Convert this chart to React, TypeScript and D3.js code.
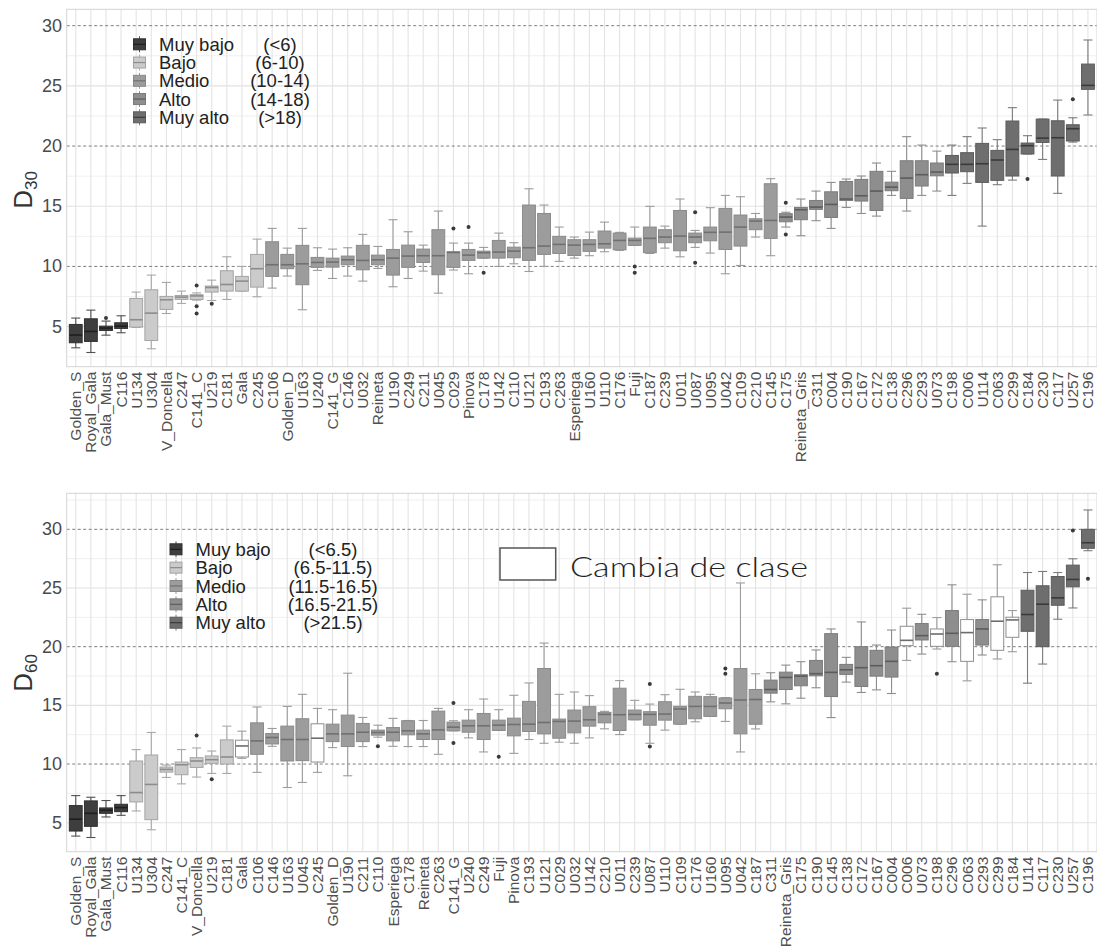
import React from "react";
import * as d3 from "d3";

// ---------- D30 panel data ----------
const cats30 = ["Golden_S","Royal_Gala","Gala_Must","C116","U134","U304","V_Doncella","C247","C141_C","U219","C181","Gala","C245","C106","Golden_D","U163","U240","C141_G","C146","U032","Reineta","U190","C249","C211","U045","C029","Pinova","C178","U142","C110","U121","C193","C263","Esperiega","U160","U110","C176","Fuji","C187","C239","U011","U087","U095","U042","C109","C210","C145","C175","Reineta_Gris","C311","C004","C190","C167","C172","C138","C296","C293","U073","C198","C006","U114","C063","C299","C184","C230","C117","U257","C196"];
const lo30 = [3.24,2.85,4.29,4.49,4.93,3.16,6.09,6.93,7.2,7.17,7.26,7.95,7.48,8.2,9.2,6.4,9.67,9.0,9.2,8.78,9.83,8.31,9.0,9.61,7.78,9.7,9.39,10.69,10.0,10.22,9.58,10.0,10.42,10.69,10.89,11.22,11.33,11.75,11.08,11.52,10.8,11.58,11.11,9.39,10.08,12.44,10.89,13.27,12.55,13.8,13.16,14.9,14.4,14.18,15.9,14.6,15.9,16.26,15.9,16.9,13.35,16.79,17.17,19.34,18.89,16.07,20.33,22.58];
const q1_30 = [3.66,3.77,4.68,4.85,4.96,3.85,6.43,7.26,7.25,7.87,7.95,7.95,8.28,9.17,9.81,8.48,9.92,9.94,10.14,9.72,10.14,9.28,9.92,10.33,9.31,9.92,10.5,10.69,10.69,10.72,10.5,11.0,11.08,10.91,11.25,11.52,11.38,11.75,11.14,11.97,11.3,11.97,12.13,11.41,11.69,13.05,12.33,13.71,13.88,14.74,14.07,15.48,15.43,14.65,16.29,15.65,16.68,17.53,17.76,17.87,16.98,17.15,17.51,19.34,20.3,17.51,20.42,24.71];
const med30 = [4.3,4.6,4.88,5.04,5.57,6.12,7.23,7.45,7.55,8.25,8.5,8.78,9.81,10.14,10.14,10.22,10.33,10.36,10.55,10.5,10.55,10.69,10.86,10.89,10.89,11.16,10.94,11.14,11.19,11.27,11.55,11.69,11.83,11.77,11.83,11.88,12.16,12.16,12.33,12.44,12.52,12.44,12.83,12.85,13.27,13.77,13.82,14.1,14.71,14.93,15.15,15.6,15.87,16.26,16.59,17.34,17.62,17.84,18.48,18.48,18.53,18.84,19.72,20.03,20.66,20.69,21.44,25.04];
const q3_30 = [5.18,5.65,5.04,5.32,7.34,8.06,7.51,7.59,7.65,8.37,9.64,9.17,11.0,12.05,11.0,11.75,10.75,10.69,10.86,11.75,10.94,11.41,11.77,11.44,13.05,11.22,11.41,11.27,12.16,11.6,15.1,14.4,12.5,12.22,12.22,12.94,12.77,12.35,13.27,13.05,14.65,12.77,13.27,14.82,14.27,13.96,16.87,14.38,14.9,15.48,16.2,17.06,17.23,17.9,17.0,18.78,18.78,18.59,19.22,19.45,20.22,19.64,22.08,20.25,22.24,22.1,21.77,26.81];
const hi30 = [5.71,6.37,5.46,5.9,7.87,9.28,8.67,7.95,7.8,8.86,10.8,10.0,12.27,13.16,11.52,13.16,11.55,11.44,11.55,12.66,11.66,13.88,12.88,11.77,14.6,11.94,11.94,11.58,12.77,11.97,16.45,15.1,13.27,12.44,12.85,13.68,12.83,13.27,14.99,13.35,15.6,12.99,14.88,15.9,15.79,14.4,17.29,14.5,15.6,16.26,16.98,17.26,17.51,18.59,17.9,20.78,20.08,19.58,20.08,20.78,21.5,20.53,23.19,20.86,22.24,23.82,22.35,28.81];
const out30: number[][] = [[],[],[5.71],[],[],[],[],[],[8.42,6.7,6.09],[6.9],[],[],[],[],[],[],[],[],[],[],[],[],[],[],[],[13.16],[13.27],[9.47],[],[],[],[],[],[],[],[],[],[10.0,9.47],[],[],[],[14.51,10.3],[],[],[],[],[],[15.29,12.66],[],[],[],[],[],[],[],[],[],[],[],[],[],[],[],[17.26],[],[],[23.88],[]];
const cls30 = ["mb","mb","mb","mb","b","b","b","b","b","b","b","b","b","m","m","m","m","m","m","m","m","m","m","m","m","m","m","m","m","m","m","m","m","m","m","m","m","m","m","m","m","m","m","m","m","m","m","a","a","a","a","a","a","a","a","a","a","a","ma","ma","ma","ma","ma","ma","ma","ma","ma","ma"];

// ---------- D60 panel data ----------
const cats60 = ["Golden_S","Royal_Gala","Gala_Must","C116","U134","U304","C247","C141_C","V_Doncella","U219","C181","Gala","C106","C146","U163","U045","C245","Golden_D","U190","C211","C110","Esperiega","C178","Reineta","C263","C141_G","U240","C249","Fuji","Pinova","C193","U121","C029","U032","U142","C210","U011","C239","U087","U110","C109","C176","U160","U095","U042","C187","C311","Reineta_Gris","C175","C190","C145","C138","C172","C167","C004","C006","U073","C198","C296","C063","C293","C299","C184","U114","C117","C230","U257","C196"];
const lo60 = [3.86,3.74,5.49,5.63,6.0,4.4,8.86,8.31,8.89,9.2,9.2,10.49,9.29,11.51,8.0,8.43,9.29,11.4,9.0,11.49,12.29,11.51,11.49,11.49,10.83,12.83,12.23,11.03,12.86,10.91,12.09,11.77,11.86,11.77,12.23,13.0,12.51,13.77,11.77,12.89,13.4,13.6,14.06,13.63,11.03,12.99,15.3,15.13,15.61,16.5,13.96,16.98,16.1,16.32,16.01,18.83,19.37,19.8,18.72,17.09,19.29,18.95,19.57,16.89,18.52,22.34,23.3,28.18];
const q1_60 = [4.29,4.69,5.8,5.94,6.77,5.26,9.31,9.09,9.71,10.06,10.0,10.6,10.83,11.71,10.26,10.29,10.17,11.91,11.49,11.91,12.46,11.97,12.49,12.09,12.09,12.83,12.71,12.09,12.86,12.4,12.77,12.57,12.2,12.66,13.23,13.51,12.86,13.77,13.31,13.74,13.4,13.86,14.06,14.71,12.57,13.39,16.04,16.35,16.67,17.52,15.75,17.64,16.61,17.49,17.41,20.09,20.57,20.03,20.03,18.75,20.14,19.69,20.8,21.31,20.0,23.53,25.1,28.38];
const med60 = [5.3,5.8,6.06,6.29,7.57,8.26,9.54,9.94,10.26,10.37,10.6,11.54,11.97,12.26,12.09,12.09,12.2,12.57,12.57,12.71,12.69,12.71,12.83,12.57,12.91,13.14,13.26,13.26,13.31,13.37,13.4,13.54,13.63,13.66,13.77,14.23,14.2,14.23,14.23,14.26,14.69,14.91,14.91,15.2,15.46,15.5,16.35,17.38,17.49,17.7,17.81,18.03,18.21,18.38,18.75,20.54,20.94,21.08,21.14,21.2,21.51,22.17,22.28,22.74,23.62,24.16,25.73,28.86];
const q3_60 = [6.46,6.86,6.26,6.57,10.26,10.77,9.74,10.17,10.54,10.69,12.06,12.03,13.51,12.6,13.23,13.86,13.43,13.4,14.17,13.46,12.89,13.11,13.69,12.89,14.51,13.57,13.74,14.31,13.74,13.91,15.34,18.14,13.83,14.6,14.89,14.4,16.46,14.6,14.46,15.31,14.91,15.77,15.74,15.63,18.14,16.35,17.15,17.83,17.61,18.83,21.11,18.49,20.0,19.69,19.97,21.74,21.97,21.51,23.08,22.31,22.31,24.25,22.51,24.81,25.19,25.98,26.95,30.0];
const hi60 = [7.31,7.17,6.89,7.31,11.23,12.69,9.91,11.23,11.37,11.11,13.23,12.8,14.86,13.03,14.91,15.94,14.74,14.63,17.74,13.97,13.31,13.89,13.71,13.71,14.74,13.69,14.63,15.54,14.63,15.86,16.91,20.31,15.94,16.14,15.83,14.49,17.11,15.43,15.11,15.91,16.37,16.14,15.94,15.66,25.43,17.69,17.78,18.43,18.72,19.72,21.51,19.09,22.11,20.14,21.42,23.28,22.76,22.48,25.27,24.47,23.99,26.98,23.08,26.32,26.41,26.32,27.49,31.65];
const out60: number[][] = [[],[],[],[],[],[],[],[],[12.43],[8.71],[],[],[],[],[],[],[],[],[],[],[11.51],[],[],[],[],[15.2,11.8],[],[],[10.63],[],[],[],[],[],[],[],[],[],[16.83,11.49],[],[],[],[],[18.14,17.69],[],[],[],[],[],[],[],[],[],[],[],[],[],[17.69],[],[],[],[],[],[],[],[],[29.91],[25.78]];
const cls60 = ["mb","mb","mb","mb","b","b","b","b","b","b","b","w","m","m","m","m","w","m","m","m","m","m","m","m","m","m","m","m","m","m","m","m","m","m","m","m","m","m","m","m","m","m","m","m","m","m","a","a","a","a","a","a","a","a","a","w","a","w","a","w","a","w","w","ma","ma","ma","ma","ma"];

// ---------- legend texts ----------
const legendLabels = ["Muy bajo", "Bajo", "Medio", "Alto", "Muy alto"];
const legendClasses = ["mb", "b", "m", "a", "ma"];
const ranges30 = ["(<6)", "(6-10)", "(10-14)", "(14-18)", "(>18)"];
const ranges60 = ["(<6.5)", "(6.5-11.5)", "(11.5-16.5)", "(16.5-21.5)", "(>21.5)"];
const yTicks = [5, 10, 15, 20, 25, 30];
const changeLabel = "Cambia de clase";

const STYLE: Record<string, { fill: string; stroke: string; median: string; whisker: string }> = {
  mb: { fill: "#3e3e3e", stroke: "#303030", median: "#1e1e1e", whisker: "#505050" },
  b: { fill: "#cbcbcb", stroke: "#a4a4a4", median: "#8c8c8c", whisker: "#a8a8a8" },
  m: { fill: "#9c9c9c", stroke: "#8a8a8a", median: "#707070", whisker: "#9c9c9c" },
  a: { fill: "#8e8e8e", stroke: "#7b7b7b", median: "#5c5c5c", whisker: "#8e8e8e" },
  ma: { fill: "#6e6e6e", stroke: "#5c5c5c", median: "#3a3a3a", whisker: "#7c7c7c" },
  w: { fill: "#ffffff", stroke: "#8e8e8e", median: "#6c6c6c", whisker: "#9c9c9c" },
};

const LEFT = 66.7;
const RIGHT = 1097;
const FONT = "'Liberation Sans', Arial, sans-serif";

type PanelProps = {
  cats: string[]; lo: number[]; q1: number[]; med: number[]; q3: number[]; hi: number[];
  outs: number[][]; cls: string[];
  top: number; bottom: number; yMin: number; yMax: number;
  sub: string; titleY: number; ranges: string[];
  legX: number; legRangeX: number; legY0: number; legStep: number;
};

function Panel(p: PanelProps) {
  const x = d3.scalePoint<string>().domain(p.cats).range([LEFT, RIGHT]).padding(0.6);
  const y = d3.scaleLinear().domain([p.yMin, p.yMax]).range([p.bottom, p.top]);
  const step = x.step();
  const bw = step * 0.85;
  const cw = step * 0.6;
  const minor = d3.range(2.5, p.yMax, 5).filter((v) => v > p.yMin);
  const majorSolid = [5, 15, 25];
  const dashed = [10, 20, 30];
  return (
    <g>
      <rect x={LEFT} y={p.top} width={RIGHT - LEFT} height={p.bottom - p.top} fill="#ffffff" />
      {minor.map((v) => (
        <line key={"mi" + v} x1={LEFT} x2={RIGHT} y1={y(v)} y2={y(v)} stroke="#ebebeb" strokeWidth={0.8} />
      ))}
      {majorSolid.map((v) => (
        <line key={"ma" + v} x1={LEFT} x2={RIGHT} y1={y(v)} y2={y(v)} stroke="#e2e2e2" strokeWidth={1.1} />
      ))}
      {p.cats.map((c) => (
        <line key={"v" + c} x1={x(c)} x2={x(c)} y1={p.top} y2={p.bottom} stroke="#e4e4e4" strokeWidth={1.1} />
      ))}
      {dashed.map((v) => (
        <line key={"d" + v} x1={LEFT} x2={RIGHT} y1={y(v)} y2={y(v)} stroke="#6f6f6f" strokeWidth={0.9} strokeDasharray="3,2.5" />
      ))}
      <rect x={LEFT} y={p.top} width={RIGHT - LEFT} height={p.bottom - p.top} fill="none" stroke="#d4d4d4" strokeWidth={1} />
      {p.cats.map((c, i) => {
        const cx = x(c) as number;
        const s = STYLE[p.cls[i]];
        return (
          <g key={"b" + c}>
            <line x1={cx} x2={cx} y1={y(p.hi[i])} y2={y(p.q3[i])} stroke={s.whisker} strokeWidth={1.1} />
            <line x1={cx} x2={cx} y1={y(p.q1[i])} y2={y(p.lo[i])} stroke={s.whisker} strokeWidth={1.1} />
            <line x1={cx - cw / 2} x2={cx + cw / 2} y1={y(p.hi[i])} y2={y(p.hi[i])} stroke={s.whisker} strokeWidth={1.1} />
            <line x1={cx - cw / 2} x2={cx + cw / 2} y1={y(p.lo[i])} y2={y(p.lo[i])} stroke={s.whisker} strokeWidth={1.1} />
            <rect x={cx - bw / 2} y={y(p.q3[i])} width={bw} height={Math.max(1, y(p.q1[i]) - y(p.q3[i]))} fill={s.fill} stroke={s.stroke} strokeWidth={1} />
            <line x1={cx - bw / 2} x2={cx + bw / 2} y1={y(p.med[i])} y2={y(p.med[i])} stroke={s.median} strokeWidth={1.6} />
            {p.outs[i].map((o, k) => (
              <circle key={k} cx={cx} cy={y(o)} r={2} fill="#3a3a3a" />
            ))}
          </g>
        );
      })}
      {yTicks.map((t) => (
        <text key={"t" + t} x={62} y={y(t)} textAnchor="end" dominantBaseline="central" fontSize={18} fill="#4a4a4a" fontFamily={FONT}>
          {t}
        </text>
      ))}
      {p.cats.map((c) => (
        <text key={"l" + c} transform={`translate(${x(c)},${p.bottom + 5}) rotate(-90)`} textAnchor="end" dominantBaseline="central" fontSize={15.5} fill="#505050" fontFamily={FONT}>
          {c}
        </text>
      ))}
      <text transform={`translate(32,${p.titleY}) rotate(-90)`} textAnchor="middle" fill="#333333" fontFamily={FONT}>
        <tspan fontSize={26}>D</tspan>
        <tspan fontSize={17} dy={5}>{p.sub}</tspan>
      </text>
      {legendLabels.map((lab, k) => {
        const cy = p.legY0 + k * p.legStep;
        const s = STYLE[legendClasses[k]];
        return (
          <g key={"lg" + k}>
            <line x1={p.legX} x2={p.legX} y1={cy - 8} y2={cy + 8} stroke={s.whisker} strokeWidth={1} />
            <rect x={p.legX - 6} y={cy - 5.5} width={12} height={11} fill={s.fill} stroke={s.stroke} strokeWidth={1} />
            <line x1={p.legX - 6} x2={p.legX + 6} y1={cy} y2={cy} stroke={s.median} strokeWidth={1.2} />
            <text x={p.legX + 19.5} y={cy} dominantBaseline="central" fontSize={18.5} fill="#222222" fontFamily={FONT}>
              {lab}
            </text>
            <text x={p.legRangeX} y={cy} textAnchor="middle" dominantBaseline="central" fontSize={18.5} fill="#222222" fontFamily={FONT}>
              {p.ranges[k]}
            </text>
          </g>
        );
      })}
    </g>
  );
}

export default function App() {
  return (
    <svg width={1097} height={947} style={{ position: "absolute", left: 0, top: 0, background: "#ffffff" }}>
      <rect width={1097} height={947} fill="#ffffff" />
      <Panel cats={cats30} lo={lo30} q1={q1_30} med={med30} q3={q3_30} hi={hi30} outs={out30} cls={cls30}
        top={9.3} bottom={366.7} yMin={1.67} yMax={31.36} sub="30" titleY={190} ranges={ranges30}
        legX={139.5} legRangeX={280} legY0={44.3} legStep={18.25} />
      <Panel cats={cats60} lo={lo60} q1={q1_60} med={med60} q3={q3_60} hi={hi60} outs={out60} cls={cls60}
        top={493.3} bottom={851.7} yMin={2.53} yMax={33.07} sub="60" titleY={673} ranges={ranges60}
        legX={176} legRangeX={333} legY0={549.3} legStep={18.35} />
      <rect x={500} y={548} width={55.7} height={32} fill="#ffffff" stroke="#555555" strokeWidth={1.5} />
      <text x={570} y={577} fontSize={28} fontWeight={300} fill="#222222" fontFamily="Lato, 'Open Sans', sans-serif" textLength={238} lengthAdjust="spacingAndGlyphs">
        {changeLabel}
      </text>
    </svg>
  );
}
